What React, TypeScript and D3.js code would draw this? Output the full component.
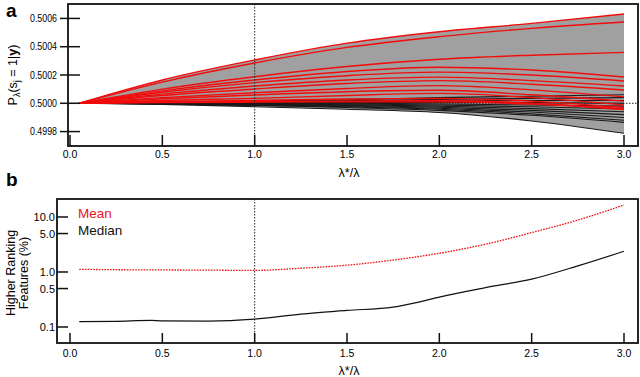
import React, { useRef, useEffect } from "react";
import * as d3 from "d3";

// panel a: lambda*/lambda grid shared by all trajectories
const lambdaGrid = [0.05, 0.5, 1.0, 1.5, 2.0, 2.5, 3.0];

// posterior minus 0.5, in units of 1e-4 (red = true features)
const redLines = [
  [0, 1.65, 3.06, 4.25, 5.06, 5.65, 6.31],
  [0, 1.5, 2.85, 3.95, 4.71, 5.3, 5.75],
  [0, 1.0, 1.88, 2.6, 3.11, 3.4, 3.6],
  [0, 0.88, 1.65, 2.25, 2.55, 2.35, 1.86],
  [0, 0.78, 1.46, 1.95, 2.2, 2.0, 1.58],
  [0, 0.65, 1.22, 1.65, 1.85, 1.6, 1.22],
  [0, 0.55, 1.01, 1.4, 1.6, 1.35, 0.94],
  [0, 0.4, 0.75, 1.05, 1.25, 0.95, 0.45],
  [0, 0.32, 0.59, 0.82, 0.92, 0.6, 0.15],
  [0, 0.2, 0.35, 0.55, 0.7, 0.4, -0.12],
  [0, 0.12, 0.2, 0.3, 0.35, 0.15, -0.3],
  [0, 0.08, 0.12, 0.15, 0.2, 0.0, -0.45],
  [0, 0.05, 0.08, 0.1, 0.1, -0.05, -0.38],
];

// null features
const blackLines = [
  [0, -0.08, -0.24, -0.42, -0.65, -1.25, -2.12],
  [0, 0.06, 0.15, 0.25, 0.4, 0.5, 0.6],
  [0, 0.04, 0.1, 0.18, 0.28, 0.35, 0.4],
  [0, 0.03, 0.07, 0.1, 0.15, 0.2, 0.2],
  [0, 0.02, 0.04, 0.05, 0.06, 0.05, 0.0],
  [0, 0.01, 0.02, 0.0, -0.05, -0.12, -0.2],
  [0, 0, 0, -0.05, -0.12, -0.25, -0.4],
  [0, -0.01, -0.03, -0.1, -0.2, -0.38, -0.6],
  [0, -0.02, -0.06, -0.15, -0.28, -0.5, -0.8],
  [0, -0.03, -0.1, -0.2, -0.35, -0.62, -1.0],
  [0, -0.04, -0.13, -0.25, -0.42, -0.75, -1.2],
  [0, -0.05, -0.15, -0.3, -0.5, -0.85, -1.35],
];

const yTicksA = [0.4998, 0.5, 0.5002, 0.5004, 0.5006];
const xTicks = [0, 0.5, 1, 1.5, 2, 2.5, 3];

// panel b: percent of null features ranking above true ones
const meanX = [0.05, 0.25, 0.5, 0.75, 1.0, 1.25, 1.5, 1.75, 2.0, 2.25, 2.5, 2.75, 3.0];
const meanY = [1.12, 1.1, 1.09, 1.08, 1.07, 1.17, 1.33, 1.65, 2.19, 3.2, 5.2, 8.8, 16.5];
const medianX = [0.05, 0.25, 0.44, 0.5, 0.75, 1.0, 1.25, 1.5, 1.75, 1.9, 2.0, 2.25, 2.5, 2.75, 3.0];
const medianY = [0.125, 0.127, 0.132, 0.129, 0.128, 0.139, 0.172, 0.2, 0.23, 0.29, 0.35, 0.52, 0.74, 1.29, 2.38];
const yTicksB = [0.1, 0.5, 1, 5, 10];

const FONT = "'Liberation Sans', Arial, sans-serif";

const App = () => {
  const svgRef = useRef(null);

  useEffect(() => {
    const svg = d3.select(svgRef.current);
    svg.selectAll("*").remove();

    const x = d3.scaleLinear().domain([0, 3]).range([70, 624]);

    // ---------- panel a ----------
    const a = { left: 68, right: 638, top: 4, bottom: 146 };
    const yA = d3.scaleLinear().domain([0.499698, 0.500702]).range([a.bottom, a.top]);
    const val = (v) => 0.5 + v * 1e-4;

    const gA = svg.append("g");
    const lineA = d3
      .line()
      .x((d, i) => x(lambdaGrid[i]))
      .y((d) => yA(val(d)))
      .curve(d3.curveMonotoneX);

    const all = redLines.concat(blackLines);
    const envelope = lambdaGrid.map((l, i) => ({
      l,
      hi: d3.max(all, (s) => s[i]),
      lo: d3.min(all, (s) => s[i]),
    }));
    gA.append("path")
      .datum(envelope)
      .attr("fill", "#a0a0a0")
      .attr(
        "d",
        d3
          .area()
          .x((d) => x(d.l))
          .y0((d) => yA(val(d.lo)))
          .y1((d) => yA(val(d.hi)))
          .curve(d3.curveMonotoneX)
      );

    // reference lines
    gA.append("line")
      .attr("x1", a.left).attr("x2", a.right)
      .attr("y1", yA(0.5)).attr("y2", yA(0.5))
      .attr("stroke", "#222").attr("stroke-width", 1)
      .attr("stroke-dasharray", "1.5,1.5");

    gA.selectAll(".blk")
      .data(blackLines)
      .enter()
      .append("path")
      .attr("fill", "none")
      .attr("stroke", "#1a1a1a")
      .attr("stroke-width", 1.1)
      .attr("d", lineA);

    gA.selectAll(".red")
      .data(redLines)
      .enter()
      .append("path")
      .attr("fill", "none")
      .attr("stroke", "#f20c0c")
      .attr("stroke-width", 1.4)
      .attr("d", lineA);

    gA.append("line")
      .attr("x1", x(1)).attr("x2", x(1))
      .attr("y1", a.top).attr("y2", a.bottom)
      .attr("stroke", "#222").attr("stroke-width", 1)
      .attr("stroke-dasharray", "1.5,1.5");

    gA.append("rect")
      .attr("x", a.left).attr("y", a.top)
      .attr("width", a.right - a.left).attr("height", a.bottom - a.top)
      .attr("fill", "none").attr("stroke", "#111").attr("stroke-width", 1.8);

    // y ticks a
    yTicksA.forEach((t) => {
      gA.append("line")
        .attr("x1", 60).attr("x2", 80)
        .attr("y1", yA(t)).attr("y2", yA(t))
        .attr("stroke", "#111").attr("stroke-width", 1.5);
      gA.append("text")
        .attr("x", 57).attr("y", yA(t) + 3.7)
        .attr("text-anchor", "end")
        .attr("font-size", 10.5)
        .attr("textLength", 27)
        .attr("lengthAdjust", "spacingAndGlyphs")
        .text(d3.format(".4f")(t));
    });

    // x ticks a
    xTicks.forEach((t) => {
      gA.append("line")
        .attr("x1", x(t)).attr("x2", x(t))
        .attr("y1", a.bottom).attr("y2", a.bottom - 11)
        .attr("stroke", "#111").attr("stroke-width", 1.5);
      gA.append("text")
        .attr("x", x(t)).attr("y", 158)
        .attr("text-anchor", "middle")
        .attr("font-size", 10.5)
        .text(d3.format(".1f")(t));
    });

    gA.append("text")
      .attr("x", 349).attr("y", 177)
      .attr("text-anchor", "middle")
      .attr("font-size", 12.5)
      .text("λ*/λ");

    const yLabA = gA.append("text")
      .attr("transform", "translate(17,75) rotate(-90)")
      .attr("text-anchor", "middle")
      .attr("font-size", 12.5);
    yLabA.append("tspan").text("P");
    yLabA.append("tspan").attr("font-size", 9).attr("dy", 3).text("λ");
    yLabA.append("tspan").attr("dy", -3).text("(s");
    yLabA.append("tspan").attr("font-size", 9).attr("dy", 3).text("j");
    yLabA.append("tspan").attr("dy", -3).text(" = 1|");
    yLabA.append("tspan").attr("font-weight", "bold").text("y");
    yLabA.append("tspan").text(")");

    svg.append("text")
      .attr("x", 6).attr("y", 17)
      .attr("font-size", 19).attr("font-weight", "bold")
      .text("a");

    // ---------- panel b ----------
    const b = { left: 57, right: 638, top: 199, bottom: 343 };
    const yB = d3
      .scaleLog()
      .domain([Math.pow(10, -1.291), Math.pow(10, 1.327)])
      .range([b.bottom, b.top]);
    const gB = svg.append("g");

    gB.append("line")
      .attr("x1", x(1)).attr("x2", x(1))
      .attr("y1", b.top).attr("y2", b.bottom)
      .attr("stroke", "#222").attr("stroke-width", 1)
      .attr("stroke-dasharray", "1.5,1.5");

    const lineB = (xs) =>
      d3
        .line()
        .x((d, i) => x(xs[i]))
        .y((d) => yB(d))
        .curve(d3.curveMonotoneX);

    gB.append("path")
      .datum(meanY)
      .attr("fill", "none")
      .attr("stroke", "#f01010")
      .attr("stroke-width", 1.3)
      .attr("stroke-dasharray", "1.6,1.2")
      .attr("d", lineB(meanX));

    gB.append("path")
      .datum(medianY)
      .attr("fill", "none")
      .attr("stroke", "#111")
      .attr("stroke-width", 1.2)
      .attr("d", lineB(medianX));

    gB.append("rect")
      .attr("x", b.left).attr("y", b.top)
      .attr("width", b.right - b.left).attr("height", b.bottom - b.top)
      .attr("fill", "none").attr("stroke", "#111").attr("stroke-width", 1.8);

    yTicksB.forEach((t) => {
      gB.append("line")
        .attr("x1", b.left).attr("x2", 68)
        .attr("y1", yB(t)).attr("y2", yB(t))
        .attr("stroke", "#111").attr("stroke-width", 1.5);
      gB.append("text")
        .attr("x", 55).attr("y", yB(t) + 4)
        .attr("text-anchor", "end")
        .attr("font-size", 11)
        .text(d3.format(".1f")(t));
    });

    xTicks.forEach((t) => {
      gB.append("line")
        .attr("x1", x(t)).attr("x2", x(t))
        .attr("y1", b.bottom).attr("y2", b.bottom - 10)
        .attr("stroke", "#111").attr("stroke-width", 1.5);
      gB.append("text")
        .attr("x", x(t)).attr("y", 357)
        .attr("text-anchor", "middle")
        .attr("font-size", 10.5)
        .text(d3.format(".1f")(t));
    });

    gB.append("text")
      .attr("x", 349).attr("y", 375)
      .attr("text-anchor", "middle")
      .attr("font-size", 12.5)
      .text("λ*/λ");

    gB.append("text")
      .attr("transform", "translate(15,273) rotate(-90)")
      .attr("text-anchor", "middle")
      .attr("font-size", 12.5)
      .text("Higher Ranking");
    gB.append("text")
      .attr("transform", "translate(28,273) rotate(-90)")
      .attr("text-anchor", "middle")
      .attr("font-size", 12.5)
      .text("Features (%)");

    gB.append("text")
      .attr("x", 78).attr("y", 218)
      .attr("font-size", 13.5).attr("fill", "#e8141c")
      .text("Mean");
    gB.append("text")
      .attr("x", 78).attr("y", 235)
      .attr("font-size", 13.5).attr("fill", "#111")
      .text("Median");

    svg.append("text")
      .attr("x", 6).attr("y", 186)
      .attr("font-size", 19).attr("font-weight", "bold")
      .text("b");
  }, []);

  return (
    <svg
      ref={svgRef}
      width={640}
      height={377}
      style={{ position: "absolute", left: 0, top: 0, background: "#fff", fontFamily: FONT }}
    ></svg>
  );
};

export default App;
